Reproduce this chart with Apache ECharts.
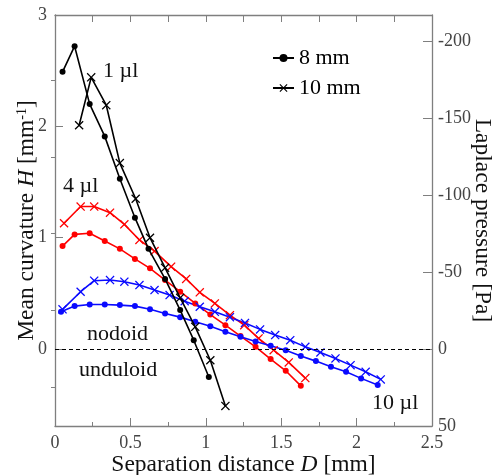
<!DOCTYPE html>
<html><head><meta charset="utf-8">
<script src="https://cdn.jsdelivr.net/npm/echarts@6/dist/echarts.min.js"></script>
<style>html,body{margin:0;padding:0;background:#fff}#c{width:497px;height:475px}</style>
</head><body><div id="c"></div>
<script>
// Laplace pressure ΔP = -GAMMA * H  (right axis scale factor)
const GAMMA = 72.4;
const H_MAX = 3;
const P_MAX = 50;

const D_black8  = [0.05,0.13,0.23,0.33,0.43,0.53,0.62,0.73,0.83,0.92,1.02];
const H_black8  = [2.49,2.72,2.20,1.91,1.53,1.18,0.90,0.63,0.35,0.08,-0.25];
const D_black10 = [0.16,0.24,0.34,0.43,0.535,0.63,0.73,0.83,0.93,1.03,1.13];
const H_black10 = [2.01,2.44,2.19,1.67,1.35,1.00,0.73,0.46,0.20,-0.10,-0.51];

const D_red8  = [0.05,0.13,0.23,0.33,0.43,0.53,0.63,0.73,0.83,0.93,1.03,1.13,1.23,1.33,1.43,1.53,1.63];
const H_red8  = [0.925,1.03,1.04,0.97,0.90,0.81,0.725,0.62,0.515,0.41,0.31,0.215,0.117,0.02,-0.09,-0.195,-0.33];
const D_red10 = [0.06,0.17,0.26,0.365,0.46,0.56,0.66,0.77,0.87,0.96,1.06,1.16,1.255,1.35,1.45,1.55,1.66];
const H_red10 = [1.13,1.28,1.28,1.225,1.12,0.98,0.88,0.74,0.63,0.51,0.41,0.305,0.215,0.096,-0.01,-0.12,-0.26];

const D_blue8  = [0.04,0.13,0.23,0.33,0.43,0.53,0.63,0.73,0.83,0.93,1.03,1.13,1.23,1.33,1.43,1.53,1.63,1.73,1.83,1.93,2.03,2.14];
const H_blue8  = [0.335,0.386,0.40,0.40,0.395,0.386,0.357,0.32,0.287,0.245,0.205,0.156,0.11,0.068,0.03,-0.01,-0.063,-0.108,-0.159,-0.204,-0.263,-0.323];
const D_blue10 = [0.05,0.17,0.26,0.365,0.46,0.56,0.66,0.76,0.86,0.96,1.06,1.16,1.26,1.36,1.46,1.56,1.66,1.76,1.86,1.96,2.06,2.16];
const H_blue10 = [0.357,0.515,0.614,0.62,0.605,0.575,0.53,0.485,0.43,0.38,0.335,0.287,0.235,0.177,0.126,0.08,0.02,-0.03,-0.084,-0.144,-0.204,-0.272];

const leftTicks = [0,1,2,3];
const rightTicks = [-200,-150,-100,-50,0,50];
const rightMinorTicks = [-175,-125,-75,-25,25];
const legendNames = ['8 mm','10 mm'];

const FONT = '"Liberation Serif","DejaVu Serif",serif';
const AXIS_COLOR = '#7f7f7f';
const CROSS = 'path://M0,1L1,0L5,4L9,0L10,1L6,5L10,9L9,10L5,6L1,10L0,9L4,5Z';

function zip(xs, ys){ return xs.map((x,i)=>[x, ys[i]]); }
function mk(name, xs, ys, color, cross){
  return {
    name, type:'line', xAxisIndex:0, yAxisIndex:0,
    data: zip(xs, ys),
    symbol: cross ? CROSS : 'circle',
    symbolSize: cross ? 9 : 6,
    showSymbol: true,
    lineStyle:{color, width:1.6},
    itemStyle:{color},
    emphasis:{disabled:true},
    z: color === '#000000' ? 4 : 3
  };
}
const H_MIN = -P_MAX / GAMMA;
const series = [
  mk('8 mm', D_black8, H_black8, '#000000', false),
  mk('10 mm', D_black10, H_black10, '#000000', true),
  mk('8 mm (4 µl)', D_red8, H_red8, '#ff0000', false),
  mk('10 mm (4 µl)', D_red10, H_red10, '#ff0000', true),
  mk('8 mm (10 µl)', D_blue8, H_blue8, '#0a0aff', false),
  mk('10 mm (10 µl)', D_blue10, H_blue10, '#0a0aff', true)
];
series[0].markLine = {
  silent:true, symbol:'none', label:{show:false},
  lineStyle:{color:'#000', type:[4,3], width:1},
  data:[{yAxis:0}]
};

const lab = {fontFamily:FONT, fontSize:18, color:'#444'};
const titleStyle = {fontFamily:FONT, fontSize:23.5, color:'#111'};

const chart = echarts.init(document.getElementById('c'), null, {renderer:'canvas'});
chart.setOption({
  animation:false,
  backgroundColor:'#fff',
  grid:{left:55, right:65, top:15, bottom:49, containLabel:false, outerBoundsMode:'none'},
  legend:{
    data: legendNames, orient:'vertical', left:267, top:42,
    itemWidth:21, itemHeight:10, itemGap:8,
    textStyle:{fontFamily:FONT, fontSize:22, color:'#000'},
    selectedMode:false
  },
  xAxis:[{
    type:'value', min:0, max:2.5, interval:0.5, position:'bottom',
    name:'{n|Separation distance }{i|D}{n| [mm]}', nameLocation:'middle', nameGap:27, nameMoveOverlap:false,
    nameTextStyle:{rich:{n:titleStyle, i:Object.assign({}, titleStyle, {fontStyle:'italic'})}},
    axisLine:{show:true, onZero:false, lineStyle:{color:AXIS_COLOR, width:1.3}},
    axisTick:{show:true, inside:true, length:8, lineStyle:{color:AXIS_COLOR}},
    minorTick:{show:true, splitNumber:2, length:4, lineStyle:{color:AXIS_COLOR}},
    axisLabel:Object.assign({margin:8}, lab),
    splitLine:{show:false}
  },{
    type:'value', min:0, max:2.5, interval:0.25, position:'top',
    axisLine:{show:true, onZero:false, lineStyle:{color:AXIS_COLOR, width:1.3}},
    axisTick:{show:true, inside:true, length:7, lineStyle:{color:AXIS_COLOR}},
    axisLabel:{show:false}, splitLine:{show:false}
  }],
  yAxis:[{
    type:'value', min:H_MIN, max:H_MAX, position:'left',
    name:'{n|Mean curvature }{i|H}{n| [mm}{s|-1}{n|]}', nameLocation:'middle', nameGap:16, nameMoveOverlap:false,
    nameTextStyle:{rich:{n:titleStyle, i:Object.assign({}, titleStyle, {fontStyle:'italic'}), s:Object.assign({}, titleStyle, {fontSize:14, verticalAlign:'top', padding:[0,0,8,0]})}},
    axisLine:{show:true, onZero:false, lineStyle:{color:AXIS_COLOR, width:1.3}},
    axisTick:{show:true, inside:true, length:8, customValues:leftTicks, lineStyle:{color:AXIS_COLOR}},
    axisLabel:Object.assign({margin:8, customValues:leftTicks}, lab),
    splitLine:{show:false}
  },{
    type:'value', min:-GAMMA*H_MAX, max:P_MAX, inverse:true, position:'right',
    name:'Laplace pressure [Pa]', nameLocation:'middle', nameGap:38, nameRotate:-90, nameMoveOverlap:false,
    nameTextStyle:titleStyle,
    axisLine:{show:true, onZero:false, lineStyle:{color:AXIS_COLOR, width:1.3}},
    axisTick:{show:true, inside:true, length:9, customValues:rightTicks, lineStyle:{color:AXIS_COLOR}},
    axisLabel:Object.assign({margin:6, customValues:rightTicks}, lab),
    splitLine:{show:false}
  },{
    type:'value', min:-GAMMA*H_MAX, max:P_MAX, inverse:true, position:'right',
    axisLine:{show:false},
    axisTick:{show:true, inside:true, length:4, customValues:rightMinorTicks, lineStyle:{color:AXIS_COLOR}},
    axisLabel:{show:false}, splitLine:{show:false}
  }],
  graphic:[
    {type:'text', left:103, top:60, style:{text:'1 µl', font:'22px '+FONT, fill:'#111'}},
    {type:'text', left:63, top:175, style:{text:'4 µl', font:'22px '+FONT, fill:'#111'}},
    {type:'text', left:372, top:392, style:{text:'10 µl', font:'22px '+FONT, fill:'#111'}},
    {type:'text', left:87, top:323, style:{text:'nodoid', font:'22px '+FONT, fill:'#111'}},
    {type:'text', left:79, top:359, style:{text:'unduloid', font:'22px '+FONT, fill:'#111'}}
  ],
  series
});
</script></body></html>
